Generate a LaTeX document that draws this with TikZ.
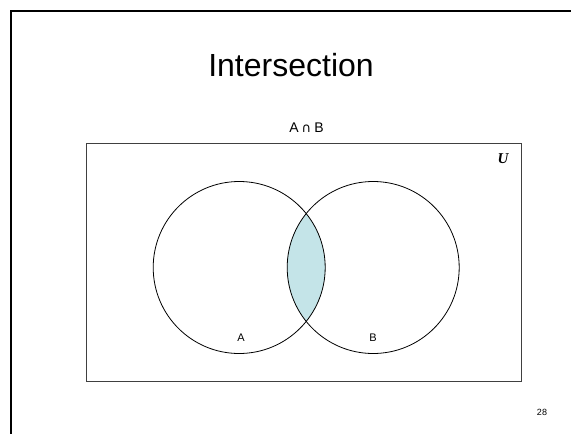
\documentclass[tikz,border=0pt]{standalone}
\usepackage{fontspec}
\setmainfont{Liberation Sans}
\newfontfamily\serifU{Liberation Serif}
\newfontfamily\symfont{DejaVu Sans}
\definecolor{lens}{HTML}{C4E4E8}
\begin{document}
\begin{tikzpicture}[x=1pt,y=-1pt,
  setcirc/.style={draw=black,line width=0.8pt},
  lbl/.style={font=\fontsize{11}{13}\selectfont,inner sep=0pt}]
\useasboundingbox (0,0) rectangle (571,434);
% slide frame
\draw[line width=2pt] (11,434) -- (11,11) -- (571,11);
% title
\node[inner sep=0pt] (title) at (291,65) {\fontsize{32}{38}\selectfont Intersection};
\node[inner sep=0pt,anchor=base] (expr) at (306.5,132.7) {\fontsize{14}{17}\selectfont A\hspace{3pt}{\symfont\fontsize{13}{16}\selectfont ∩}\hspace{3pt}B};
% universe
\draw[line width=0.8pt,draw=black!75] (86,143) rectangle (521.5,381.5);
\node[inner sep=0pt] (U) at (503,159) {\serifU\bfseries\itshape\fontsize{15}{18}\selectfont U};
% circles
\coordinate (ca) at (239.2,267.5);
\coordinate (cb) at (373.2,267.5);
\begin{scope}
  \clip (ca) circle (86);
  \fill[lens] (cb) circle (86);
\end{scope}
\draw[setcirc] (ca) circle (86);
\draw[setcirc] (cb) circle (86);
\node[lbl] (la) at (241,338) {A};
\node[lbl] (lb) at (373,338) {B};
\node[inner sep=0pt] (pg) at (542,412) {\fontsize{9}{11}\selectfont 28};
\end{tikzpicture}
\end{document}
